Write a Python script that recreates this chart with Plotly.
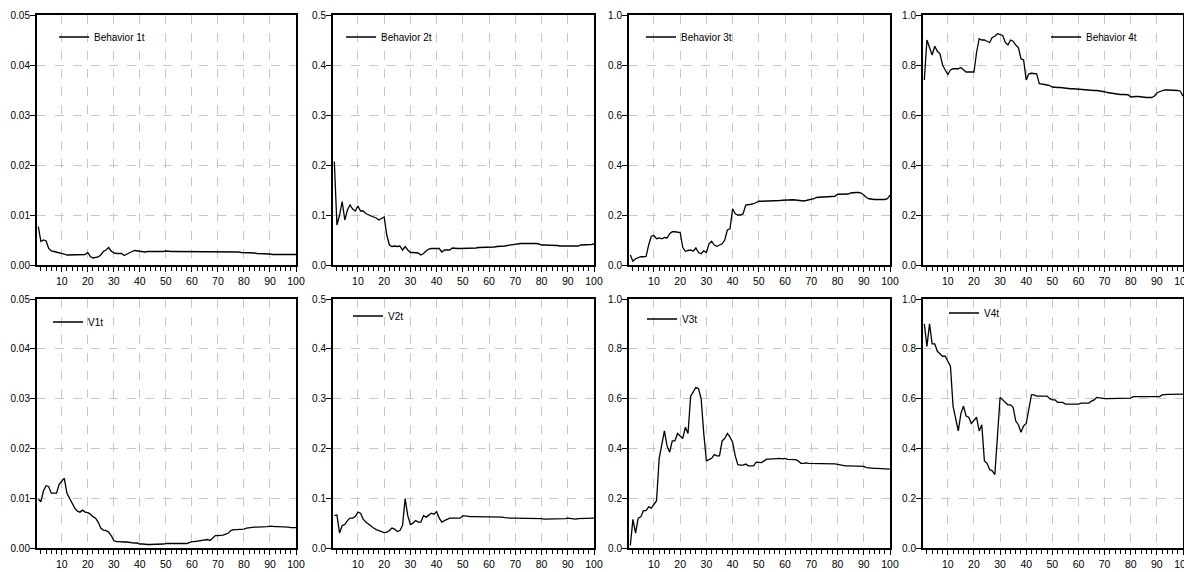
import plotly.graph_objects as go

periods = list(range(1, 101))

behavior1 = [0.0077, 0.0047, 0.0050, 0.0048, 0.0033, 0.0028, 0.0027, 0.0026, 0.0025, 0.0024,
             0.0022, 0.0020, 0.0020, 0.0021, 0.0021, 0.0021, 0.0021, 0.0020, 0.0021, 0.0025,
             0.0017, 0.0014, 0.0015, 0.0016, 0.0020, 0.0027, 0.0030, 0.0035, 0.0028, 0.0024,
             0.0023, 0.0023, 0.0023, 0.0019, 0.0022, 0.0025, 0.0027, 0.0029, 0.0028, 0.0027,
             0.0027, 0.0026, 0.0027, 0.0027, 0.0027, 0.0027, 0.0026, 0.0027, 0.0027, 0.0028,
             0.0027, 0.0027, 0.0027, 0.0027, 0.0027, 0.0027, 0.0027, 0.0027, 0.0027, 0.0027,
             0.0027, 0.0027, 0.0027, 0.0027, 0.0027, 0.0027, 0.0026, 0.0026, 0.0026, 0.0026,
             0.0026, 0.0026, 0.0026, 0.0026, 0.0026, 0.0026, 0.0026, 0.0026, 0.0025, 0.0025,
             0.0024, 0.0024, 0.0024, 0.0024, 0.0023, 0.0023, 0.0023, 0.0023, 0.0022, 0.0022,
             0.0021, 0.0021, 0.0020, 0.0020, 0.0020, 0.0020, 0.0020, 0.0020, 0.0021, 0.0021]

behavior2 = [0.207, 0.080, 0.100, 0.127, 0.090, 0.110, 0.120, 0.112, 0.108, 0.118,
             0.108, 0.108, 0.103, 0.100, 0.098, 0.096, 0.094, 0.090, 0.093, 0.096,
             0.060, 0.040, 0.037, 0.038, 0.037, 0.038, 0.030, 0.037, 0.030, 0.025,
             0.025, 0.025, 0.024, 0.020, 0.023, 0.028, 0.032, 0.033, 0.033, 0.033,
             0.033, 0.026, 0.030, 0.030, 0.030, 0.034, 0.033, 0.033, 0.033, 0.033,
             0.033, 0.033, 0.033, 0.033, 0.034, 0.035, 0.035, 0.035, 0.035, 0.036,
             0.036, 0.036, 0.037, 0.037, 0.038, 0.038, 0.039, 0.040, 0.040, 0.041,
             0.042, 0.043, 0.043, 0.043, 0.044, 0.044, 0.044, 0.043, 0.042, 0.040,
             0.040, 0.040, 0.039, 0.039, 0.039, 0.039, 0.038, 0.038, 0.038, 0.037,
             0.037, 0.037, 0.037, 0.038, 0.040, 0.040, 0.040, 0.041, 0.041, 0.042]

behavior3 = [0.040, 0.015, 0.025, 0.030, 0.033, 0.033, 0.034, 0.080, 0.115, 0.118,
             0.105, 0.108, 0.105, 0.110, 0.108, 0.125, 0.133, 0.133, 0.133, 0.130,
             0.070, 0.055, 0.058, 0.060, 0.055, 0.068, 0.050, 0.045, 0.057, 0.050,
             0.085, 0.095, 0.080, 0.075, 0.080, 0.085, 0.100, 0.140, 0.145, 0.225,
             0.205, 0.200, 0.200, 0.205, 0.240, 0.243, 0.243, 0.245, 0.250, 0.255,
             0.255, 0.255, 0.256, 0.256, 0.257, 0.257, 0.258, 0.258, 0.259, 0.260,
             0.260, 0.260, 0.261, 0.260, 0.258, 0.258, 0.256, 0.258, 0.260, 0.260,
             0.265, 0.270, 0.272, 0.272, 0.272, 0.272, 0.273, 0.273, 0.275, 0.283,
             0.283, 0.283, 0.283, 0.284, 0.288, 0.290, 0.290, 0.290, 0.288, 0.280,
             0.270, 0.265, 0.262, 0.262, 0.262, 0.262, 0.260, 0.262, 0.265, 0.280]

behavior4 = [0.740, 0.900, 0.870, 0.840, 0.875, 0.855, 0.845, 0.800, 0.780, 0.762,
             0.780, 0.785, 0.785, 0.785, 0.790, 0.780, 0.772, 0.772, 0.772, 0.772,
             0.850, 0.905, 0.900, 0.900, 0.895, 0.890, 0.910, 0.915, 0.925, 0.920,
             0.918, 0.890, 0.880, 0.900, 0.895, 0.880, 0.870, 0.825, 0.820, 0.740,
             0.765, 0.767, 0.767, 0.765, 0.725, 0.722, 0.722, 0.720, 0.718, 0.712,
             0.710, 0.710, 0.710, 0.708, 0.708, 0.706, 0.705, 0.705, 0.704, 0.702,
             0.700, 0.700, 0.699, 0.699, 0.698, 0.698, 0.698, 0.697, 0.695, 0.693,
             0.690, 0.688, 0.685, 0.683, 0.682, 0.682, 0.682, 0.682, 0.681, 0.672,
             0.674, 0.674, 0.674, 0.672, 0.670, 0.670, 0.670, 0.670, 0.675, 0.688,
             0.693, 0.697, 0.700, 0.700, 0.700, 0.700, 0.700, 0.698, 0.695, 0.675]

v1 = [0.0098, 0.0093, 0.0115, 0.0125, 0.0123, 0.0110, 0.0110, 0.0110, 0.0128, 0.0135,
      0.0140, 0.0110, 0.0100, 0.0088, 0.0080, 0.0074, 0.0072, 0.0076, 0.0072, 0.0071,
      0.0068, 0.0063, 0.0060, 0.0052, 0.0040, 0.0036, 0.0035, 0.0032, 0.0025, 0.0015,
      0.0013, 0.0013, 0.0012, 0.0012, 0.0012, 0.0011, 0.0010, 0.0010, 0.0010, 0.0008,
      0.0008, 0.0007, 0.0007, 0.0007, 0.0007, 0.0007, 0.0007, 0.0008, 0.0008, 0.0009,
      0.0009, 0.0009, 0.0009, 0.0009, 0.0009, 0.0009, 0.0009, 0.0009, 0.0011, 0.0013,
      0.0013, 0.0014, 0.0015, 0.0015, 0.0016, 0.0017, 0.0015, 0.0021, 0.0025, 0.0025,
      0.0025, 0.0026, 0.0028, 0.0030, 0.0035, 0.0037, 0.0037, 0.0037, 0.0038, 0.0038,
      0.0040, 0.0041, 0.0042, 0.0042, 0.0042, 0.0042, 0.0042, 0.0042, 0.0043, 0.0044,
      0.0043, 0.0043, 0.0043, 0.0043, 0.0043, 0.0043, 0.0042, 0.0041, 0.0041, 0.0041]

v2 = [0.065, 0.066, 0.030, 0.045, 0.047, 0.055, 0.060, 0.060, 0.063, 0.072,
      0.070, 0.058, 0.052, 0.048, 0.043, 0.040, 0.037, 0.035, 0.033, 0.031,
      0.032, 0.035, 0.040, 0.038, 0.033, 0.035, 0.045, 0.099, 0.065, 0.047,
      0.050, 0.055, 0.052, 0.052, 0.065, 0.062, 0.066, 0.070, 0.068, 0.073,
      0.060, 0.052, 0.055, 0.057, 0.060, 0.060, 0.060, 0.061, 0.060, 0.065,
      0.064, 0.063, 0.063, 0.063, 0.063, 0.062, 0.062, 0.062, 0.062, 0.062,
      0.062, 0.062, 0.062, 0.062, 0.062, 0.061, 0.060, 0.060, 0.060, 0.060,
      0.060, 0.060, 0.060, 0.060, 0.060, 0.060, 0.060, 0.060, 0.060, 0.059,
      0.058, 0.058, 0.058, 0.058, 0.058, 0.058, 0.059, 0.059, 0.059, 0.060,
      0.059, 0.058, 0.058, 0.059, 0.059, 0.060, 0.060, 0.060, 0.060, 0.060]

v3 = [0.010, 0.115, 0.060, 0.120, 0.125, 0.150, 0.150, 0.165, 0.160, 0.175,
      0.190, 0.360, 0.410, 0.470, 0.410, 0.385, 0.430, 0.430, 0.460, 0.450,
      0.440, 0.485, 0.460, 0.610, 0.625, 0.645, 0.640, 0.600, 0.460, 0.350,
      0.355, 0.360, 0.375, 0.370, 0.370, 0.430, 0.440, 0.460, 0.445, 0.425,
      0.370, 0.335, 0.333, 0.333, 0.337, 0.330, 0.330, 0.330, 0.345, 0.343,
      0.343, 0.350, 0.357, 0.357, 0.358, 0.360, 0.360, 0.360, 0.358, 0.360,
      0.356, 0.355, 0.355, 0.355, 0.350, 0.340, 0.340, 0.342, 0.340, 0.340,
      0.340, 0.340, 0.340, 0.340, 0.340, 0.340, 0.340, 0.340, 0.338, 0.336,
      0.333, 0.330, 0.330, 0.330, 0.330, 0.330, 0.330, 0.330, 0.330, 0.328,
      0.323, 0.321, 0.320, 0.320, 0.320, 0.320, 0.320, 0.319, 0.318, 0.317]

v4 = [0.900, 0.810, 0.900, 0.820, 0.820, 0.790, 0.780, 0.770, 0.770, 0.750,
      0.730, 0.570, 0.520, 0.470, 0.540, 0.570, 0.530, 0.525, 0.500, 0.515,
      0.525, 0.470, 0.495, 0.350, 0.340, 0.315, 0.310, 0.295, 0.450, 0.605,
      0.595, 0.585, 0.575, 0.575, 0.565, 0.510, 0.495, 0.465, 0.490, 0.500,
      0.560, 0.615, 0.615, 0.610, 0.610, 0.610, 0.610, 0.610, 0.600, 0.595,
      0.595, 0.585, 0.585, 0.585, 0.578, 0.578, 0.578, 0.580, 0.578, 0.578,
      0.582, 0.582, 0.582, 0.582, 0.590, 0.595, 0.605, 0.603, 0.600, 0.600,
      0.600, 0.600, 0.600, 0.600, 0.600, 0.600, 0.600, 0.600, 0.601, 0.602,
      0.608, 0.608, 0.608, 0.608, 0.608, 0.610, 0.610, 0.610, 0.610, 0.608,
      0.608, 0.615, 0.617, 0.617, 0.617, 0.617, 0.617, 0.617, 0.617, 0.618]

names = ["Behavior 1t", "Behavior 2t", "Behavior 3t", "Behavior 4t", "V1t", "V2t", "V3t", "V4t"]
series = [behavior1, behavior2, behavior3, behavior4, v1, v2, v3, v4]
ymax = [0.05, 0.5, 1.0, 1.0, 0.05, 0.5, 1.0, 1.0]
yfmt = [".2f", ".1f", ".1f", ".1f", ".2f", ".1f", ".1f", ".1f"]

# page has an 8px body margin: the figure is drawn 8px in from the top-left
OFF = 8
W, H = 1192 - OFF, 572 - OFF
col_px = [(37, 296), (333, 594), (629, 890), (923, 1183)]
row_px = [(15, 265), (299, 548)]
# legend line-start positions (page px) per panel
leg_px = [(60, 37), (347, 37), (647, 37), (1052, 37), (54, 322), (354, 316), (648, 319), (950, 313)]

FONT = "Liberation Sans Narrow, Arial Narrow, Liberation Sans, Arial, sans-serif"
fig = go.Figure()
layout = dict(
    width=W, height=H, margin=dict(l=0, r=0, t=0, b=0, autoexpand=False),
    paper_bgcolor="white", plot_bgcolor="white",
    font=dict(family=FONT, size=11, color="black"),
)

for i in range(8):
    r, c = divmod(i, 4)
    n = i + 1
    xa = "x" if n == 1 else f"x{n}"
    ya = "y" if n == 1 else f"y{n}"
    lg = "legend" if n == 1 else f"legend{n}"
    fig.add_trace(go.Scatter(
        x=periods, y=series[i], mode="lines", name=names[i],
        line=dict(color="black", width=1.3), xaxis=xa, yaxis=ya,
        legend=lg, showlegend=True))
    x0, x1 = col_px[c]
    y0, y1 = row_px[r]
    layout[f"xaxis{'' if n == 1 else n}"] = dict(
        domain=[(x0 - OFF) / W, (x1 - OFF) / W], anchor=ya, range=[0.5, 100],
        tickvals=[10, 20, 30, 40, 50, 60, 70, 80, 90, 100],
        ticks="outside", ticklen=5, tickwidth=1, tickcolor="black",
        minor=dict(tick0=0, dtick=2, ticks="outside", ticklen=4, tickwidth=1,
                   tickcolor="black", showgrid=False),
        showgrid=True, gridcolor="#c8c8c8", griddash="dash", gridwidth=1,
        showline=True, linecolor="black", linewidth=2, mirror=True,
        zeroline=False, tickfont=dict(size=10.5), automargin=False, fixedrange=True)
    layout[f"yaxis{'' if n == 1 else n}"] = dict(
        domain=[1 - (y1 - OFF) / H, 1 - (y0 - OFF) / H], anchor=xa, range=[0, ymax[i]],
        dtick=ymax[i] / 5, tickformat=yfmt[i],
        ticks="outside", ticklen=5, tickwidth=1, tickcolor="black",
        ticklabelstandoff=-2,
        showgrid=True, gridcolor="#c8c8c8", griddash="dash", gridwidth=1,
        showline=True, linecolor="black", linewidth=2, mirror=True,
        zeroline=False, tickfont=dict(size=10), automargin=False, fixedrange=True)
    lx, ly = leg_px[i]
    layout[lg] = dict(
        x=(lx - OFF - 6) / W, y=1 - (ly - OFF) / H, xanchor="left", yanchor="middle",
        xref="paper", yref="paper", bgcolor="rgba(0,0,0,0)",
        borderwidth=0, font=dict(family=FONT, size=10, color="black"),
        itemwidth=30)

fig.update_layout(**layout)
fig.write_html("out.html")
